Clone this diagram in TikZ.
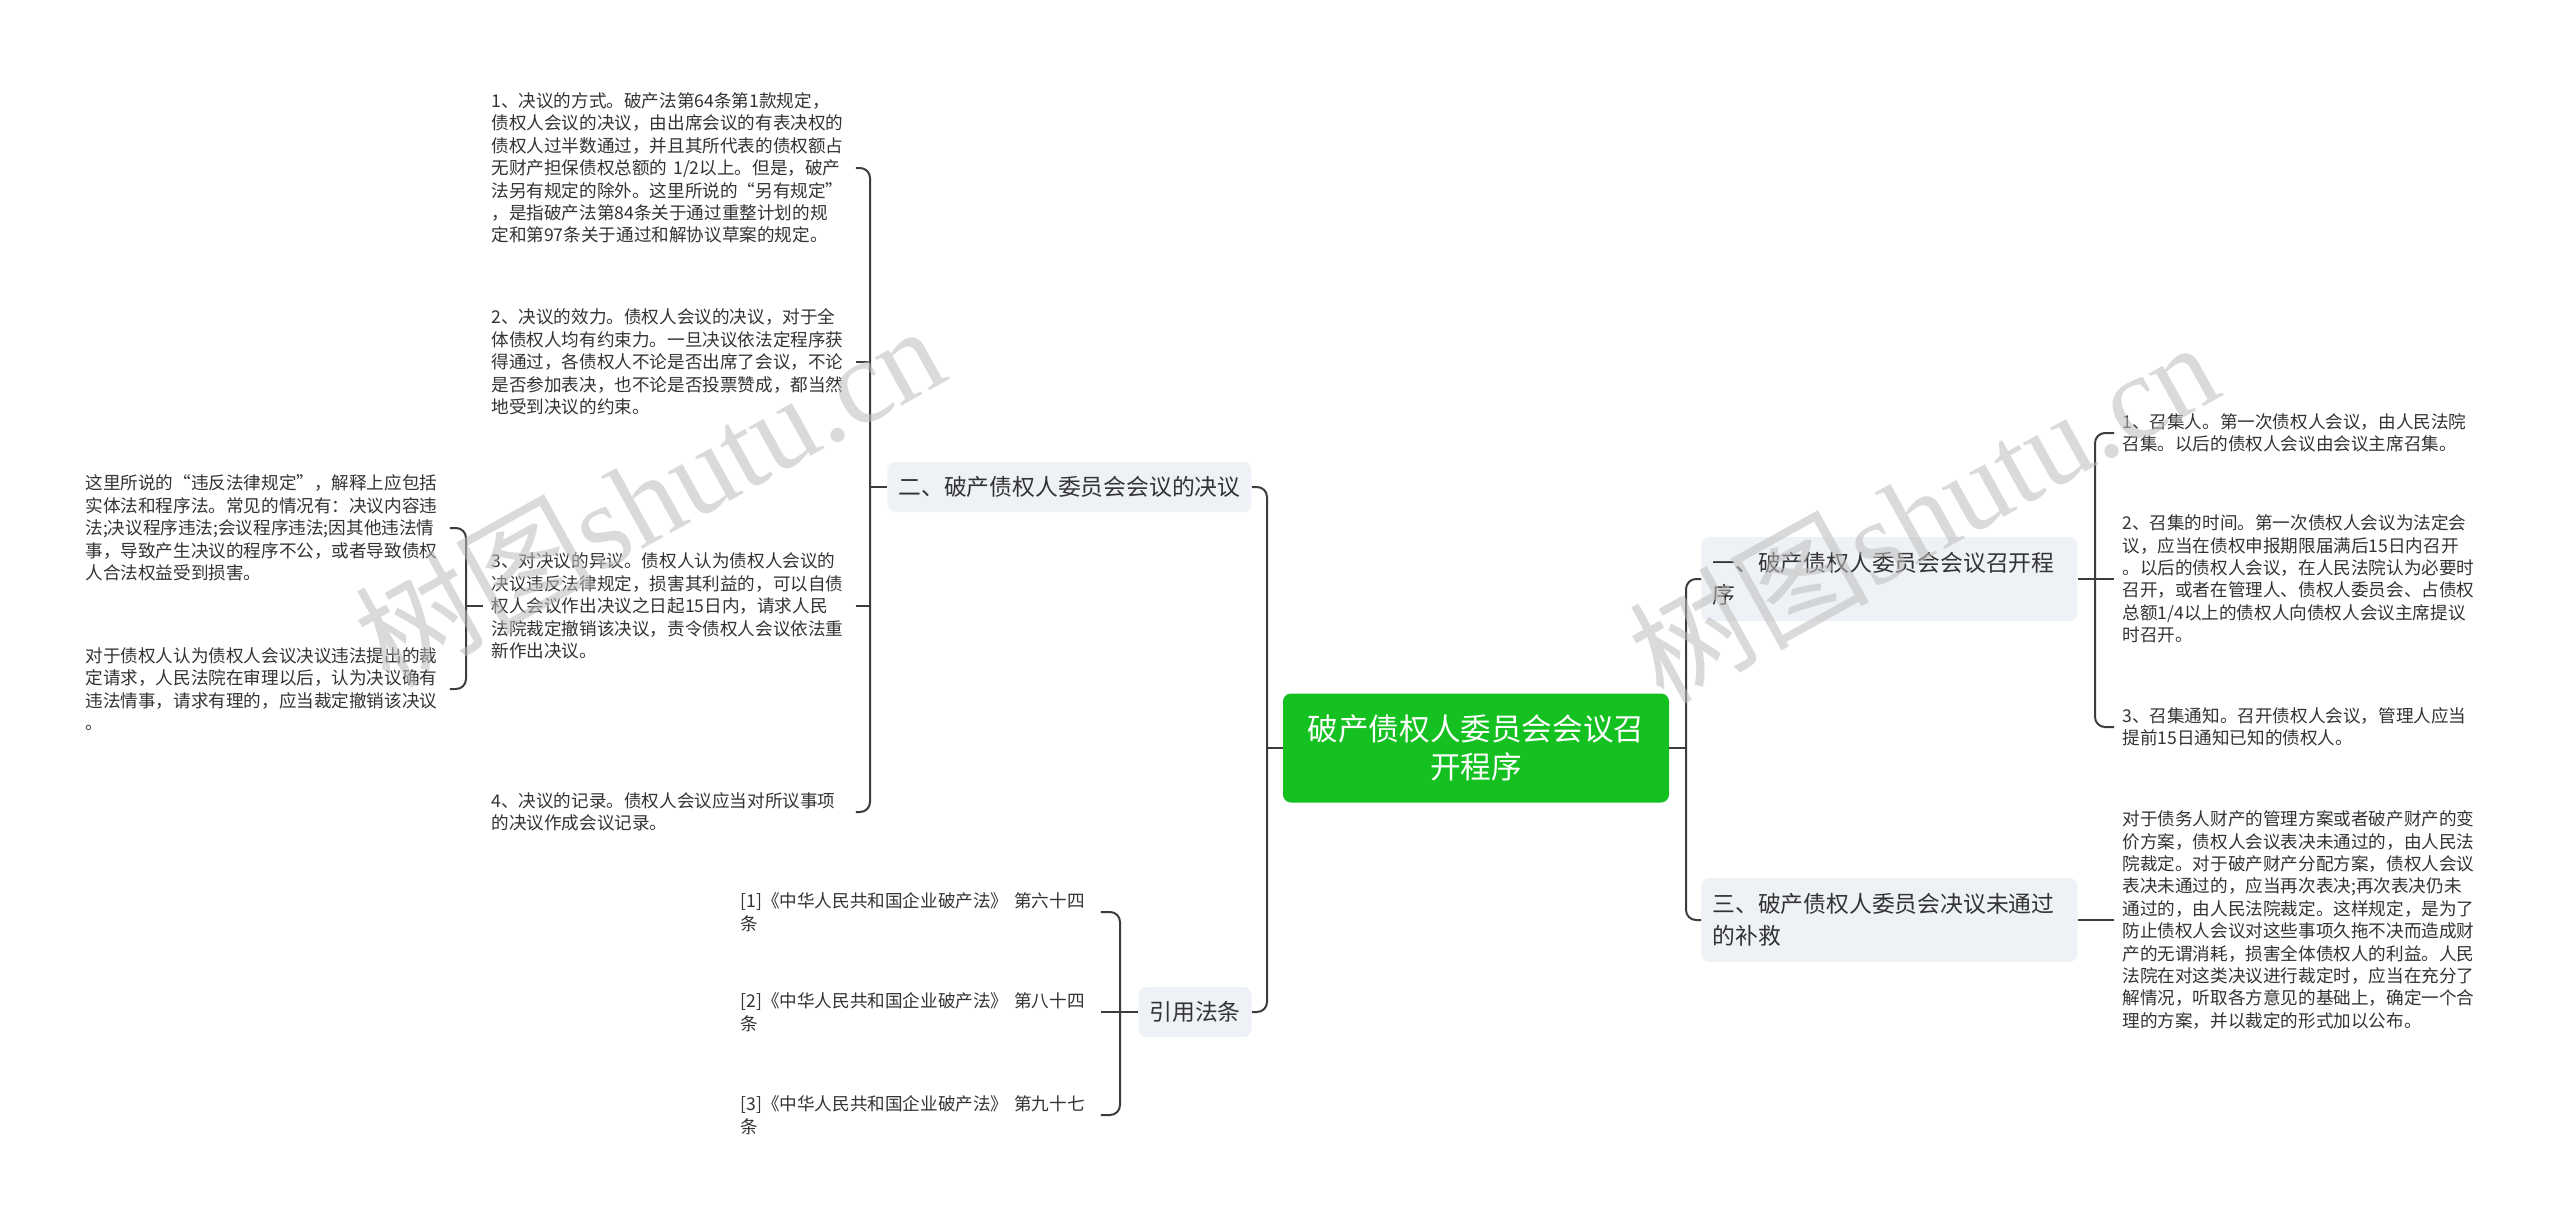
\documentclass[tikz,border=0pt]{standalone}
\usepackage{fontspec}
\setmainfont{Noto Sans CJK SC}
\newfontfamily\wmlatin{Liberation Serif}
\usepackage{tikz}
\usetikzlibrary{positioning}
\definecolor{rootgreen}{HTML}{15C121}
\definecolor{branchgray}{HTML}{EEF1F5}
\definecolor{linegray}{HTML}{3C3C3C}
\definecolor{textgray}{HTML}{333333}
\definecolor{markgray}{HTML}{BDBDBD}
\newcommand{\shutumark}[2]{
    \node[
        rotate=29,
        text=markgray,
        opacity=0.55,
        font=\fontsize{60}{60}\selectfont
    ] (#2) at (#1) {树图\wmlatin shutu.cn};
}

\begin{document}
\begin{tikzpicture}[x=0.5pt,y=-0.5pt,
    leaf/.style={anchor=west, align=left, text width=178pt, inner xsep=4pt, inner ysep=2pt, text=textgray, font=\fontsize{8.8}{11.2}\selectfont},
    branch/.style={anchor=west, fill=branchgray, rounded corners=4pt, inner xsep=5.5pt, minimum height=25pt, text=textgray, font=\fontsize{11.4}{16}\selectfont},
    link/.style={draw=linegray, line width=1pt, rounded corners=5pt}]
    \useasboundingbox[fill=white] (0,0) rectangle (2560,1221);

    % hubs of the brackets
    \coordinate (lhub) at (1267,0);
    \coordinate (rhub) at (1686,0);
    \coordinate (dhub) at (870,0);
    \coordinate (ehub) at (466,0);
    \coordinate (chub) at (1120,0);
    \coordinate (whub) at (2095,0);

    \node[fill=rootgreen, rounded corners=4pt, minimum width=193pt, minimum height=54.5pt, align=center, text=white, font=\fontsize{15.3}{18.8}\selectfont] (root) at (1476,748) {破产债权人委员会会议召\\开程序};

    \node[branch] (decide) at (887,487) {二、破产债权人委员会会议的决议};
    \node[branch] (cite) at (1138,1012) {引用法条};
    \node[branch, align=left, text width=177pt, minimum height=42pt] (convene) at (1701,579) {一、破产债权人委员会会议召开程\\序};
    \node[branch, align=left, text width=177pt, minimum height=42pt] (remedy) at (1701,920) {三、破产债权人委员会决议未通过\\的补救};

    % left side
    \node[leaf] (d1) at (483,168) {1、决议的方式。破产法第64条第1款规定，\\债权人会议的决议，由出席会议的有表决权的\\债权人过半数通过，并且其所代表的债权额占\\无财产担保债权总额的 1/2以上。但是，破产\\法另有规定的除外。这里所说的“另有规定”\\，是指破产法第84条关于通过重整计划的规\\定和第97条关于通过和解协议草案的规定。};
    \node[leaf] (d2) at (483,362) {2、决议的效力。债权人会议的决议，对于全\\体债权人均有约束力。一旦决议依法定程序获\\得通过，各债权人不论是否出席了会议，不论\\是否参加表决，也不论是否投票赞成，都当然\\地受到决议的约束。};
    \node[leaf] (d3) at (483,606) {3、对决议的异议。债权人认为债权人会议的\\决议违反法律规定，损害其利益的，可以自债\\权人会议作出决议之日起15日内，请求人民\\法院裁定撤销该决议，责令债权人会议依法重\\新作出决议。};
    \node[leaf] (d4) at (483,812) {4、决议的记录。债权人会议应当对所议事项\\的决议作成会议记录。};
    \node[leaf] (e1) at (77,528) {这里所说的“违反法律规定”，解释上应包括\\实体法和程序法。常见的情况有：决议内容违\\法;决议程序违法;会议程序违法;因其他违法情\\事，导致产生决议的程序不公，或者导致债权\\人合法权益受到损害。};
    \node[leaf] (e2) at (77,689) {对于债权人认为债权人会议决议违法提出的裁\\定请求，人民法院在审理以后，认为决议确有\\违法情事，请求有理的，应当裁定撤销该决议\\。};
    \node[leaf, text width=176pt] (law1) at (732,912) {[1]《中华人民共和国企业破产法》 第六十四\\条};
    \node[leaf, text width=176pt] (law2) at (732,1012) {[2]《中华人民共和国企业破产法》 第八十四\\条};
    \node[leaf, text width=176pt] (law3) at (732,1115) {[3]《中华人民共和国企业破产法》 第九十七\\条};

    % right side
    \node[leaf] (w1) at (2114,433) {1、召集人。第一次债权人会议，由人民法院\\召集。以后的债权人会议由会议主席召集。};
    \node[leaf] (w2) at (2114,579) {2、召集的时间。第一次债权人会议为法定会\\议，应当在债权申报期限届满后15日内召开\\。以后的债权人会议，在人民法院认为必要时\\召开，或者在管理人、债权人委员会、占债权\\总额1/4以上的债权人向债权人会议主席提议\\时召开。};
    \node[leaf] (w3) at (2114,727) {3、召集通知。召开债权人会议，管理人应当\\提前15日通知已知的债权人。};
    \node[leaf] (fix) at (2114,920) {对于债务人财产的管理方案或者破产财产的变\\价方案，债权人会议表决未通过的，由人民法\\院裁定。对于破产财产分配方案，债权人会议\\表决未通过的，应当再次表决;再次表决仍未\\通过的，由人民法院裁定。这样规定，是为了\\防止债权人会议对这些事项久拖不决而造成财\\产的无谓消耗，损害全体债权人的利益。人民\\法院在对这类决议进行裁定时，应当在充分了\\解情况，听取各方意见的基础上，确定一个合\\理的方案，并以裁定的形式加以公布。};

    % connectors
    \draw[link] (decide.east) -- (decide.east -| lhub) -- (cite.east -| lhub) -- (cite.east);
    \draw[link] (root.west) -- (root.west -| lhub);
    \draw[link] (convene.west) -- (convene.west -| rhub) -- (remedy.west -| rhub) -- (remedy.west);
    \draw[link] (root.east) -- (root.east -| rhub);
    \draw[link] (d1.east) -- (d1.east -| dhub) -- (d4.east -| dhub) -- (d4.east);
    \draw[link] (d2.east) -- (d2.east -| dhub);
    \draw[link] (d3.east) -- (d3.east -| dhub);
    \draw[link] (decide.west) -- (decide.west -| dhub);
    \draw[link] (e1.east) -- (e1.east -| ehub) -- (e2.east -| ehub) -- (e2.east);
    \draw[link] (d3.west) -- (d3.west -| ehub);
    \draw[link] (law1.east) -- (law1.east -| chub) -- (law3.east -| chub) -- (law3.east);
    \draw[link] (law2.east) -- (cite.west);
    \draw[link] (w1.west) -- (w1.west -| whub) -- (w3.west -| whub) -- (w3.west);
    \draw[link] (convene.east) -- (w2.west);
    \draw[link] (remedy.east) -- (fix.west);

    % watermarks
    \shutumark{649,494}{markl}
    \shutumark{1923,510}{markr}
\end{tikzpicture}
\end{document}
